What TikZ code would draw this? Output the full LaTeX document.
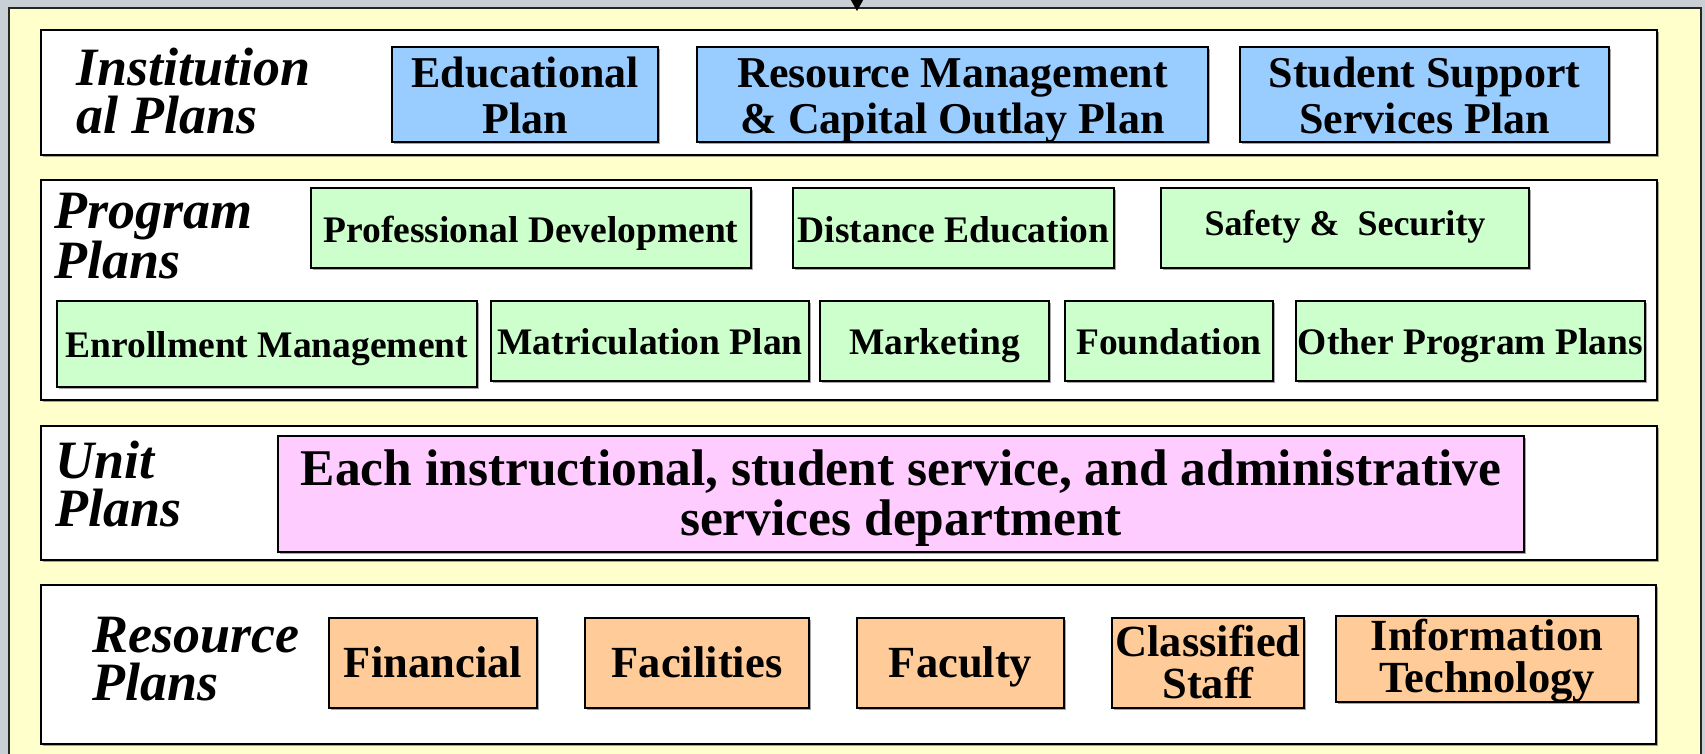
\documentclass[tikz,border=0pt]{standalone}
\usepackage{fontspec}
\setmainfont{Liberation Serif}
\usetikzlibrary{arrows.meta,shadows}
\definecolor{bggray}{RGB}{200,208,214}
\definecolor{paper}{RGB}{255,255,204}
\definecolor{instblue}{RGB}{153,204,255}
\definecolor{proggreen}{RGB}{204,255,204}
\definecolor{unitpink}{RGB}{255,204,255}
\definecolor{resorange}{RGB}{255,204,153}
\newcommand{\fsz}[2]{\fontsize{#1}{#2}\selectfont}
\tikzset{
  softshadow/.style={drop shadow={shadow xshift=2pt,shadow yshift=-2pt,fill=black,opacity=0.35}},
  rowplate/.style={draw=black,line width=1.6pt,fill=white,inner sep=0pt,softshadow},
  itembox/.style={draw=black,line width=1.6pt,inner sep=0pt,align=center,softshadow,text depth=8pt},
  instbox/.style={itembox,fill=instblue,minimum height=95pt,font=\fsz{44}{46}\bfseries,text height=87pt},
  progbox/.style={itembox,fill=proggreen,minimum height=80pt,font=\fsz{37.5}{40}\bfseries,text height=34pt},
  unitbox/.style={itembox,fill=unitpink,font=\fsz{51.5}{50}\bfseries,text height=93pt,text depth=10pt},
  resbox/.style={itembox,fill=resorange,minimum height=90pt,font=\fsz{44.5}{42}\bfseries,text height=36pt},
  rowlabel/.style={anchor=west,align=left,inner sep=0pt,font=\fsz{54}{48}\bfseries\itshape,text height=85pt,text depth=6pt},
}
\begin{document}
\begin{tikzpicture}[x=1pt,y=-1pt]
\useasboundingbox (0,0) rectangle (1705,754);
\fill[bggray] (0,0) rectangle (1705,754);
\draw[fill=paper,draw=black!85,line width=1.4pt] (9,8) rectangle (1701,775);

% top incoming arrow
\coordinate (arrtop) at (857,-4);
\coordinate (arrtip) at (857,11);
\draw[-{Triangle[width=12pt,length=11pt]},line width=1.2pt] (arrtop) -- (arrtip);

% row plates
\node[rowplate,minimum width=1616pt,minimum height=125pt] (instrow) at (849,92.5) {};
\node[rowplate,minimum width=1616pt,minimum height=220pt] (progrow) at (849,290) {};
\node[rowplate,minimum width=1616pt,minimum height=134pt] (unitrow) at (849,493) {};
\node[rowplate,minimum width=1615pt,minimum height=159pt] (resrow) at (848.5,664.5) {};

% row labels
\node[rowlabel] (instlabel) at (76,94.5) {Institution\\al Plans};
\node[rowlabel] (proglabel) at (54,238.5) {Program\\Plans};
\node[rowlabel] (unitlabel) at (55,486.5) {Unit\\Plans};
\node[rowlabel] (reslabel) at (92,660.5) {Resource\\Plans};

% institutional plans
\node[instbox,minimum width=266pt] (edu) at (525,94.5) {Educational\\Plan};
\node[instbox,minimum width=511pt] (rmcop) at (952.5,94.5) {Resource Management\\\& Capital Outlay Plan};
\node[instbox,minimum width=369pt] (ssplan) at (1424.5,94.5) {Student Support\\Services Plan};

% program plans, first row
\node[progbox,minimum width=440pt,text height=38pt] (prodev) at (531,228) {Professional Development};
\node[progbox,minimum width=321pt,text height=38pt] (disted) at (953.5,228) {Distance Education};
\node[progbox,minimum width=368pt,font=\fsz{36}{40}\bfseries,text height=23pt] (safety) at (1345,228) {Safety \&\ \ Security};

% program plans, second row
\node[progbox,minimum width=420pt,minimum height=86pt] (enroll) at (267,344) {Enrollment Management};
\node[progbox,minimum width=318.5pt] (matric) at (650,341) {Matriculation Plan};
\node[progbox,minimum width=229pt] (market) at (934.5,341) {Marketing};
\node[progbox,minimum width=208pt] (found) at (1169,341) {Foundation};
\node[progbox,minimum width=349pt] (other) at (1470.5,341) {Other Program Plans};

% unit plans
\node[unitbox,minimum width=1246pt,minimum height=116pt] (unitdept) at (901,494) {Each instructional, student service, and administrative\\services department};

% resource plans
\node[resbox,minimum width=208pt] (fin) at (433,663) {Financial};
\node[resbox,minimum width=224pt] (fac) at (697,663) {Facilities};
\node[resbox,minimum width=207pt] (faculty) at (960.5,663) {Faculty};
\node[resbox,minimum width=192pt,text height=78pt] (classified) at (1208,663) {Classified\\Staff};
\node[resbox,minimum width=302pt,minimum height=86pt,text height=74pt] (infotech) at (1487,659) {Information\\Technology};
\end{tikzpicture}
\end{document}
